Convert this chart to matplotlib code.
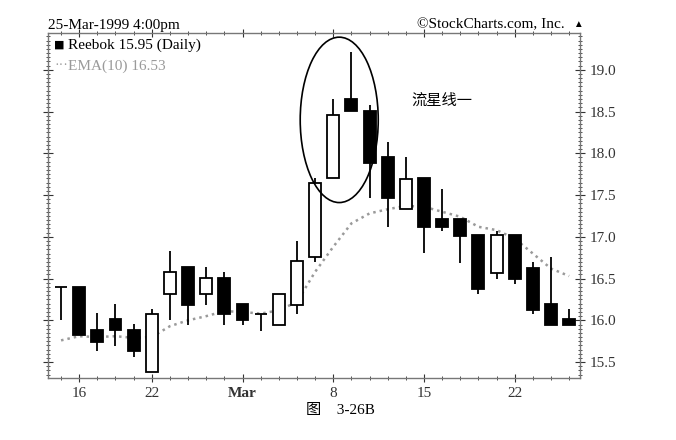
import matplotlib.pyplot as plt
from matplotlib.patches import Ellipse
from matplotlib.ticker import MultipleLocator

plt.rcParams['font.family'] = ['Liberation Serif', 'Noto Sans CJK SC', 'DejaVu Sans']

# Reebok daily, 12-Feb-1999 .. 25-Mar-1999 (one entry per trading day)
opens = [16.40, 16.40, 15.89, 16.02, 15.89, 15.38, 16.32, 16.64, 16.32, 16.51,
         16.20, 16.08, 15.95, 16.18, 16.76, 17.70, 18.65, 18.51, 17.96, 17.33,
         17.70, 17.21, 17.21, 17.02, 16.57, 17.02, 16.63, 16.19, 16.01]
highs = [16.40, 16.40, 16.09, 16.20, 15.96, 16.14, 16.83, 16.64, 16.64, 16.58,
         16.20, 16.08, 16.32, 16.95, 17.70, 18.65, 19.21, 18.58, 18.14, 17.96,
         17.70, 17.57, 17.21, 17.02, 17.07, 17.02, 16.70, 16.76, 16.14]
lows = [16.00, 15.82, 15.63, 15.69, 15.56, 15.38, 16.00, 15.94, 16.18, 15.94,
        15.94, 15.87, 15.95, 16.07, 16.70, 17.70, 18.51, 17.46, 17.12, 17.33,
        16.81, 17.07, 16.69, 16.31, 16.49, 16.43, 16.07, 15.95, 15.94]
closes = [16.40, 15.82, 15.74, 15.88, 15.63, 16.08, 16.58, 16.18, 16.51, 16.07,
          16.00, 16.08, 16.32, 16.71, 17.65, 18.46, 18.51, 17.88, 17.46, 17.69,
          17.12, 17.12, 17.01, 16.38, 17.02, 16.49, 16.12, 15.95, 15.95]
ema10 = [15.76, 15.81, 15.80, 15.81, 15.79, 15.80, 15.93, 16.00, 16.05, 16.11,
         16.10, 16.08, 16.12, 16.22, 16.58, 16.88, 17.16, 17.28, 17.33, 17.37,
         17.36, 17.30, 17.24, 17.12, 17.08, 16.98, 16.80, 16.62, 16.53]

tick_pos = [1, 5, 10, 15, 20, 25]
tick_labels = ['16', '22', 'Mar', '8', '15', '22']

fig = plt.figure(figsize=(6.76, 4.40), dpi=100)
ax = fig.add_axes([0.071, 0.141, 0.787, 0.784])

x = list(range(len(closes)))
w = 0.66

# wicks first, then bodies on top
ax.vlines(x, lows, highs, color='black', lw=1.3, zorder=2)
for i in x:
    o, c = opens[i], closes[i]
    fc = 'white' if c > o else 'black'
    ax.bar(i, abs(c - o), w, bottom=min(o, c), facecolor=fc,
           edgecolor='black', lw=1.3, zorder=3)

ax.plot(x, ema10, color='#9a9a9a', lw=1.8, linestyle=(0, (1, 1.6)), zorder=1)

# shooting star highlight
ax.add_patch(Ellipse((15.33, 18.40), 4.3, 1.98, fill=False,
                     edgecolor='black', lw=1.2, zorder=4))
ax.text(19.3, 18.64, '流星线一', fontsize=11,
        family=['Noto Sans CJK SC', 'DejaVu Sans'], va='center')

ax.set_xlim(-0.72, 28.6)
ax.set_ylim(15.31, 19.44)

ax.yaxis.tick_right()
ax.yaxis.set_major_locator(MultipleLocator(0.5))
ax.yaxis.set_minor_locator(MultipleLocator(0.05))
ax.yaxis.set_major_formatter(plt.FormatStrFormatter('%.1f'))
ax.tick_params(axis='y', which='both', left=True, right=True,
               direction='inout', labelsize=11, colors='#333333')
ax.tick_params(axis='y', which='major', length=7)
ax.tick_params(axis='y', which='minor', length=3)

ax.set_xticks(tick_pos)
ax.set_xticklabels(tick_labels)
ax.xaxis.set_minor_locator(MultipleLocator(1))
ax.tick_params(axis='x', which='both', top=True, bottom=True,
               direction='inout', labelsize=11, colors='#333333')
ax.tick_params(axis='x', which='major', length=6)
ax.tick_params(axis='x', which='minor', length=3)
for lab in ax.get_xticklabels():
    if lab.get_text() == 'Mar':
        lab.set_fontweight('bold')

for s in ax.spines.values():
    s.set_color('#777777')
    s.set_linewidth(1.0)

# header and legend
fig.text(0.071, 0.935, '25-Mar-1999 4:00pm', fontsize=11)
fig.text(0.835, 0.935, '©StockCharts.com, Inc.', fontsize=11, ha='right')
fig.text(0.848, 0.938, '▲', fontsize=7)
ax.text(0.012, 0.965, '■', transform=ax.transAxes, fontsize=8, va='center',
        family='DejaVu Sans')
ax.text(0.038, 0.965, 'Reebok 15.95 (Daily)', transform=ax.transAxes,
        fontsize=11, va='center')
ax.text(0.012, 0.905, '···', transform=ax.transAxes, fontsize=10,
        va='center', color='#9a9a9a')
ax.text(0.038, 0.905, 'EMA(10) 16.53', transform=ax.transAxes,
        fontsize=11, va='center', color='#9a9a9a')

fig.text(0.503, 0.06, '图    3-26B', fontsize=11, ha='center',
         family=['Liberation Serif', 'Noto Sans CJK SC'])

fig.savefig('out.png', dpi=100)
